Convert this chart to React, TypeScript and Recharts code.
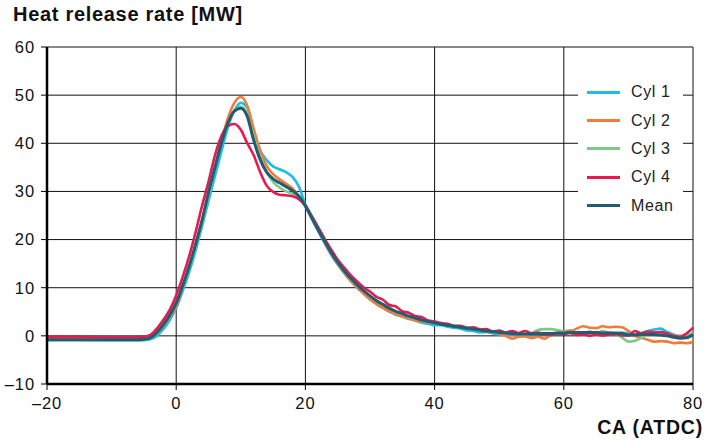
import { LineChart, Line, XAxis, YAxis, CartesianGrid } from 'recharts';

// crank angle (deg ATDC)
const ca = [
  -20, -15, -10, -6, -5, -4, -3, -2, -1,
  0, 1, 2, 3, 4, 5, 6, 7, 8, 9, 10, 11, 12, 13, 14, 15, 16, 17, 18, 19,
  20, 21, 22, 23, 24, 25, 26, 27, 28, 29, 30, 31, 32, 33, 34, 35, 36, 37, 38, 39,
  40, 41, 42, 43, 44, 45, 46, 47, 48, 49, 50, 51, 52, 53, 54, 55, 56, 57, 58, 59,
  60, 61, 62, 63, 64, 65, 66, 67, 68, 69, 70, 71, 72, 73, 74, 75, 76, 77, 78, 79, 80,
];

const cyl1 = [
  -0.8, -0.8, -0.9, -0.9, -0.9, -0.7, 0.0, 1.4, 3.3,
  5.8, 9.3, 13.2, 17.7, 22.8, 28.0, 33.2, 38.3, 43.3, 46.8, 48.4, 47.4, 42.0, 38.5, 36.5, 35.2, 34.6, 34.0, 33.0, 31.0,
  27.2, 24.3, 21.7, 19.2, 16.8, 14.8, 13.0, 11.4, 10.0, 8.8, 7.6, 6.7, 5.8, 5.1, 4.4, 4.0, 3.5, 3.2, 2.7, 2.5,
  2.2, 2.2, 1.9, 1.7, 1.5, 1.1, 1.0, 0.7, 0.8, 0.5, 0.3, 0.2, 0.4, 0.0, 0.3, 0.1, 0.3, 0.5, 0.2, 0.6,
  0.8, 1.1, 0.6, 0.5, 0.9, 0.4, 0.6, 0.3, 0.5, 0.7, 0.5, 0.3, 0.6, 1.0, 1.3, 1.5, 0.8, 0.3, -0.3, 0.0, 0.3,
];

const cyl2 = [
  -0.6, -0.6, -0.7, -0.7, -0.7, -0.4, 0.5, 2.0, 3.9,
  6.2, 10.0, 14.2, 18.8, 24.0, 29.5, 35.0, 40.4, 45.2, 48.4, 49.6, 47.8, 43.0, 38.5, 35.3, 33.6, 32.5, 31.6, 30.6, 29.0,
  27.0, 24.4, 21.9, 19.4, 17.0, 15.0, 13.2, 11.5, 10.1, 8.8, 7.6, 6.6, 5.8, 5.0, 4.6, 4.0, 3.7, 3.2, 3.0, 2.8,
  2.7, 2.5, 2.3, 2.2, 1.9, 1.8, 1.5, 1.4, 1.0, 0.8, 0.5, 0.0, -0.6, -0.2, -0.1, -0.5, -0.2, -0.6, 0.2, 0.6,
  1.0, 1.0, 1.5, 2.0, 1.7, 1.6, 2.0, 1.8, 1.9, 1.8, 1.0, 0.0, -0.4, -0.8, -1.2, -1.1, -1.2, -1.5, -1.4, -1.5, -1.3,
];

const cyl3 = [
  -0.9, -0.9, -0.9, -0.9, -0.8, -0.4, 0.8, 2.6, 4.8,
  7.0, 10.2, 14.0, 18.5, 23.5, 29.0, 34.8, 39.8, 44.0, 46.8, 47.6, 46.0, 41.5, 37.2, 34.0, 32.0, 30.8, 30.0, 29.5, 28.5,
  27.2, 24.9, 22.4, 20.0, 17.6, 15.6, 13.8, 12.2, 10.7, 9.5, 8.3, 7.3, 6.6, 5.8, 5.0, 4.7, 4.0, 3.9, 3.3, 3.0,
  2.8, 2.7, 2.4, 2.2, 2.0, 1.8, 1.6, 1.3, 1.2, 0.9, 0.7, 0.6, 0.4, 0.6, 0.3, 0.6, 1.2, 1.4, 1.4, 1.2,
  0.9, 0.6, 0.3, 0.6, 0.4, 0.6, 1.0, 0.7, 0.4, -0.3, -1.2, -1.0, -0.4, 0.4, 0.8, 0.7, 0.3, 0.2, 0.0, 0.1, 0.6,
];

const cyl4 = [
  -0.2, -0.2, -0.3, -0.3, -0.2, 0.2, 1.5, 3.3, 5.4,
  8.4, 12.2, 16.5, 21.5, 27.0, 32.0, 37.5, 41.5, 43.6, 44.0, 42.8, 40.0, 37.5, 34.0, 31.2, 29.9, 29.3, 29.2, 29.0, 28.4,
  27.0, 24.8, 22.5, 20.1, 17.9, 15.8, 14.2, 12.6, 11.3, 10.1, 9.2, 8.1, 7.5, 6.4, 6.1, 5.1, 4.8, 4.1, 3.9, 3.2,
  3.0, 2.6, 2.5, 2.0, 2.1, 1.6, 1.8, 1.3, 1.4, 0.9, 1.1, 0.7, 1.0, 0.6, 1.0, 0.5, 0.7, 0.3, 0.2, 0.5,
  0.4, 0.6, 0.2, 0.3, 0.0, 0.3, 0.1, 0.3, 0.4, 0.1, 0.1, 1.0, 0.5, 0.9, 0.7, 0.8, 0.5, 0.0, -0.2, 0.5, 1.7,
];

const mean = [
  -0.8, -0.8, -0.8, -0.8, -0.7, -0.4, 0.7, 2.3, 4.3,
  6.8, 10.4, 14.4, 19.0, 24.0, 29.8, 35.0, 40.0, 44.2, 46.7, 47.3, 45.6, 40.6, 36.6, 34.0, 32.6, 31.8, 31.0, 30.2, 29.0,
  27.0, 24.5, 22.0, 19.6, 17.3, 15.3, 13.5, 12.0, 10.6, 9.4, 8.3, 7.3, 6.5, 5.7, 5.1, 4.6, 4.1, 3.7, 3.3, 3.0,
  2.7, 2.4, 2.2, 2.0, 1.8, 1.6, 1.4, 1.2, 1.0, 0.9, 0.7, 0.6, 0.5, 0.4, 0.4, 0.4, 0.4, 0.5, 0.5, 0.6,
  0.6, 0.7, 0.7, 0.7, 0.7, 0.7, 0.6, 0.6, 0.6, 0.5, 0.2, 0.2, 0.3, 0.3, 0.3, 0.2, 0.0, -0.3, -0.5, -0.4, 0.3,
];

const xTicks = [-20, 0, 20, 40, 60, 80];
const yTicks = [-10, 0, 10, 20, 30, 40, 50, 60];

const series = [
  { key: 'cyl1', name: 'Cyl 1', color: '#1cbde6', width: 2.6 },
  { key: 'cyl2', name: 'Cyl 2', color: '#f47b37', width: 2.6 },
  { key: 'cyl3', name: 'Cyl 3', color: '#7cc98b', width: 2.6 },
  { key: 'cyl4', name: 'Cyl 4', color: '#e8194f', width: 2.6 },
  { key: 'mean', name: 'Mean', color: '#235b72', width: 3 },
];

const data = ca.map((x, i) => ({
  ca: x,
  cyl1: cyl1[i],
  cyl2: cyl2[i],
  cyl3: cyl3[i],
  cyl4: cyl4[i],
  mean: mean[i],
}));

const FONT = '"Liberation Sans", Arial, Helvetica, sans-serif';
const fmt = (v: number) => (v < 0 ? `\u2013${-v}` : `${v}`);

export default function App() {
  return (
    <div style={{ position: 'absolute', left: 0, top: 0, width: 708, height: 442, background: '#fff', fontFamily: FONT }}>
      <div style={{ position: 'absolute', left: 13, top: 3, fontSize: 20, fontWeight: 'bold', letterSpacing: 0.7, color: '#111' }}>
        Heat release rate [MW]
      </div>
      <LineChart width={708} height={442} data={data} margin={{ top: 47, right: 15, left: 0, bottom: 28 }}>
        <CartesianGrid stroke="#111" strokeWidth={1} />
        <XAxis
          dataKey="ca"
          type="number"
          domain={[-20, 80]}
          ticks={xTicks}
          tickFormatter={fmt}
          height={30}
          axisLine={{ stroke: '#000', strokeWidth: 2.5 }}
          tickLine={{ stroke: '#000', strokeWidth: 1 }}
          tickSize={6}
          tickMargin={7}
          tick={{ fill: '#111', fontSize: 16.5, fontFamily: FONT, letterSpacing: 0.9 }}
        />
        <YAxis
          type="number"
          domain={[-10, 60]}
          ticks={yTicks}
          tickFormatter={fmt}
          width={47}
          axisLine={{ stroke: '#000', strokeWidth: 2.5 }}
          tickLine={{ stroke: '#000', strokeWidth: 1 }}
          tickSize={6}
          tickMargin={6}
          tick={{ fill: '#111', fontSize: 16.5, fontFamily: FONT, letterSpacing: 0.9 }}
        />
        {series.map((s) => (
          <Line
            key={s.key}
            dataKey={s.key}
            name={s.name}
            type="monotone"
            stroke={s.color}
            strokeWidth={s.width}
            dot={false}
            isAnimationActive={false}
          />
        ))}
      </LineChart>
      <div style={{ position: 'absolute', left: 578, top: 76, width: 105, height: 144, background: '#fff', paddingTop: 2, boxSizing: 'border-box' }}>
        {series.map((s) => (
          <div key={s.key} style={{ height: 28.4, display: 'flex', alignItems: 'center' }}>
            <div style={{ marginLeft: 9, width: 33, height: 3, background: s.color }} />
            <span style={{ marginLeft: 11, fontSize: 16, letterSpacing: 0.6, color: '#222' }}>{s.name}</span>
          </div>
        ))}
      </div>
      <div style={{ position: 'absolute', right: 5, top: 416, fontSize: 19.5, fontWeight: 'bold', letterSpacing: 0.8, color: '#111' }}>
        CA (ATDC)
      </div>
    </div>
  );
}
